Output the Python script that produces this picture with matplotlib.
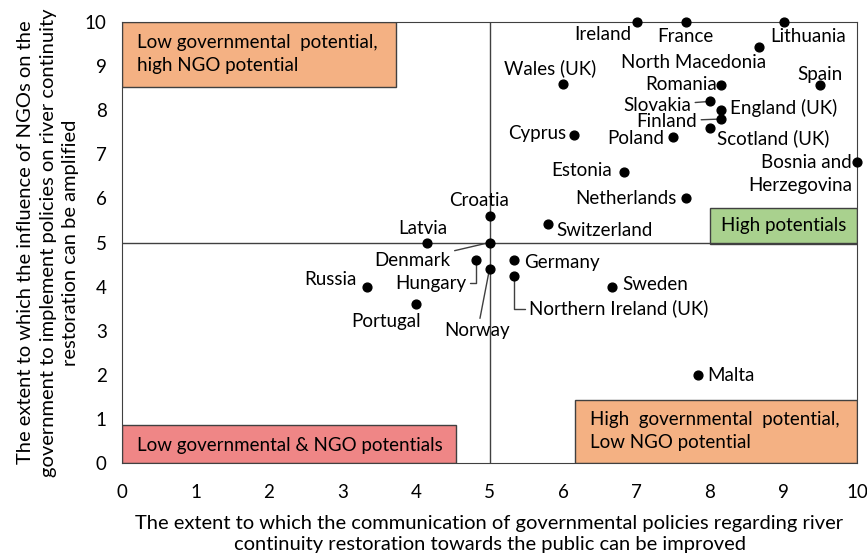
import matplotlib.pyplot as plt
from matplotlib.patches import Rectangle

plt.rcParams['font.family'] = ['Lato', 'DejaVu Sans']

# countries: (communication improvable, NGO influence amplifiable)
countries = ['Ireland', 'France', 'Lithuania', 'North Macedonia', 'Wales (UK)', 'Romania',
             'Spain', 'Slovakia', 'England (UK)', 'Finland', 'Scotland (UK)', 'Poland',
             'Cyprus', 'Bosnia and\nHerzegovina', 'Estonia', 'Netherlands', 'Croatia',
             'Switzerland', 'Latvia', 'Denmark', 'Hungary', 'Norway', 'Germany',
             'Northern Ireland (UK)', 'Russia', 'Portugal', 'Sweden', 'Malta']
x_vals = [7.0, 7.67, 9.0, 8.67, 6.0, 8.15, 9.5, 8.0, 8.15, 8.15, 8.0, 7.5,
          6.15, 10.0, 6.83, 7.67, 5.0, 5.8, 4.15, 5.0, 4.82, 5.0, 5.33,
          5.33, 3.33, 4.0, 6.67, 7.83]
y_vals = [10.0, 10.0, 10.0, 9.43, 8.6, 8.57, 8.57, 8.2, 8.0, 7.8, 7.6, 7.4,
          7.43, 6.83, 6.6, 6.0, 5.6, 5.43, 5.0, 5.0, 4.6, 4.4, 4.6,
          4.25, 4.0, 3.6, 4.0, 2.0]

# label placement: offset in pixels from the dot (dx right, dy up), alignment, leader style
label_dx = [-5, 0, -13, 7, -13, -4, 0, -19, 9, -24, 7, -9, -8, -5, -12, -9, -10, 8, -4,
            -39, -10, -12, 10, 15, -10, -30, 10, 10]
label_dy = [-12, -14, -14, -15, 16, 1, 11, -4, 2, -2, -10, -2, 2, -12, 1, 0, 16, -7, 14,
            -18, -23, -62, -2, -33, 7, -17, 2, -1]
label_ha = ['right', 'center', 'left', 'right', 'center', 'right', 'center', 'right', 'left',
            'right', 'left', 'right', 'right', 'right', 'right', 'right', 'center', 'left',
            'center', 'right', 'right', 'center', 'left', 'left', 'right', 'center', 'left', 'left']
leaders = {'Slovakia': 'arc3', 'Finland': 'arc3', 'Denmark': 'arc3', 'Norway': 'arc3',
           'Hungary': 'angle,angleA=0,angleB=90,rad=0',
           'Northern Ireland (UK)': 'angle,angleA=0,angleB=90,rad=0'}

fig = plt.figure(figsize=(8.67, 5.53), dpi=100)
ax = fig.add_axes([0.1407, 0.1627, 0.8478, 0.7975])
ax.set_xlim(0, 10)
ax.set_ylim(0, 10)

edge = '#404040'
# quadrant boxes
ax.add_patch(Rectangle((0, 8.53), 3.73, 1.47, facecolor='#F4B183', edgecolor=edge, lw=1, zorder=1))
ax.add_patch(Rectangle((0, 0), 4.54, 0.86, facecolor='#EF8686', edgecolor=edge, lw=1, zorder=1))
ax.add_patch(Rectangle((6.16, 0), 3.84, 1.44, facecolor='#F4B183', edgecolor=edge, lw=1, zorder=1))
ax.add_patch(Rectangle((8.0, 4.97), 2.0, 0.81, facecolor='#A9D18E', edgecolor=edge, lw=1, zorder=1))
fs = 13.5
ax.text(0.2, 9.27, 'Low governmental  potential,\nhigh NGO potential', fontsize=fs,
        va='center', ha='left', linespacing=1.45, zorder=2)
ax.text(0.2, 0.4, 'Low governmental & NGO potentials', fontsize=fs, va='center', ha='left', zorder=2)
ax.text(6.37, 0.72, 'High  governmental  potential,\nLow NGO potential', fontsize=fs,
        va='center', ha='left', linespacing=1.45, zorder=2)
ax.text(9.0, 5.38, 'High potentials', fontsize=fs, va='center', ha='center', zorder=2)

ax.axvline(5, color=edge, lw=1, zorder=1.5)
ax.axhline(5, color=edge, lw=1, zorder=1.5)

ax.scatter(x_vals, y_vals, s=40, color='black', zorder=4, clip_on=False)

k = 72 / fig.dpi
for name, x, y, dx, dy, ha in zip(countries, x_vals, y_vals, label_dx, label_dy, label_ha):
    props = None
    if name in leaders:
        props = dict(arrowstyle='-', color=edge, lw=1, shrinkA=1, shrinkB=2,
                     connectionstyle=leaders[name])
    ax.annotate(name, (x, y), xytext=(dx * k, dy * k), textcoords='offset points',
                ha=ha, va='center', fontsize=fs, linespacing=1.45, zorder=3,
                arrowprops=props, annotation_clip=False)

for s in ax.spines.values():
    s.set_color(edge)
ax.set_xticks(range(11))
ax.set_yticks(range(11))
ax.tick_params(length=0, labelsize=fs)
ax.tick_params(axis='x', pad=15)
ax.tick_params(axis='y', pad=11)
ax.set_xlabel('The extent to which the communication of governmental policies regarding river\n'
              'continuity restoration towards the public can be improved', fontsize=14.5,
              labelpad=10, linespacing=1.3)
ax.set_ylabel('The extent to which the influence of NGOs on the\n'
              'government to implement policies on river continuity\n'
              'restoration can be amplified', fontsize=14.5, labelpad=4, linespacing=1.4)

fig.savefig('out.png', dpi=100)
